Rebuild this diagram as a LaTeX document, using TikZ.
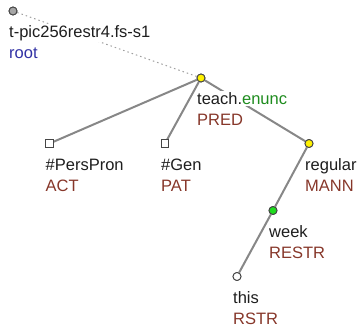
\documentclass[tikz,border=0pt]{standalone}
\usepackage{fontspec}
\setmainfont{Liberation Sans}
\definecolor{rolecol}{RGB}{135,55,42}
\definecolor{rootcol}{RGB}{50,50,165}
\definecolor{enunccol}{RGB}{30,140,30}
\definecolor{txtcol}{RGB}{30,30,30}
\definecolor{edgecol}{RGB}{135,135,135}
\definecolor{nodeborder}{RGB}{70,70,70}
\tikzset{
  tnode/.style={circle, draw=nodeborder, line width=0.9pt, minimum size=8pt, inner sep=0pt},
  snode/.style={rectangle, draw=nodeborder, line width=0.9pt, fill=white, minimum size=7.5pt, inner sep=0pt},
  edge/.style={draw=edgecol, line width=2pt},
  rootedge/.style={draw=edgecol!80, line width=1pt, dash pattern=on 1.5pt off 3pt},
  lab/.style={anchor=base west, fill=white, inner xsep=1pt, inner ysep=1.5pt, text=txtcol, font=\fontsize{16.5}{20}\selectfont},
  rolelab/.style={lab, text=rolecol},
}
\begin{document}
\begin{tikzpicture}[x=1pt,y=-1pt]
\useasboundingbox (0,0) rectangle (357,327);
% node positions
\node[tnode, fill=gray!70] (root) at (13,11) {};
\node[tnode, fill=yellow] (teach) at (201,78) {};
\node[snode] (pers) at (49.5,143.5) {};
\node[snode] (gen) at (165,143.5) {};
\node[tnode, fill=yellow] (regular) at (309,143.5) {};
\node[tnode, fill={rgb,255:red,30;green,220;blue,30}] (week) at (273,210.5) {};
\node[tnode, fill=white] (this) at (237,276.5) {};
% edges
\draw[rootedge] (root) -- (teach);
\draw[edge] (teach) -- (pers);
\draw[edge] (teach) -- (gen);
\draw[edge] (teach) -- (regular);
\draw[edge] (regular) -- (week);
\draw[edge] (week) -- (this);
% labels
\node[lab] (rootA) at (8,37.5) {t-pic256restr4.fs-s1};
\node[lab, text=rootcol] (rootB) at (8,58.5) {root};
\node[lab] (teachA) at (196,104.5) {teach.\textcolor{enunccol}{enunc}};
\node[rolelab] (teachB) at (196,125.5) {PRED};
\node[lab] (persA) at (44.5,170) {\#PersPron};
\node[rolelab] (persB) at (44.5,191) {ACT};
\node[lab] (genA) at (160,170) {\#Gen};
\node[rolelab] (genB) at (160,191) {PAT};
\node[lab] (regA) at (304,170) {regular};
\node[rolelab] (regB) at (304,191) {MANN};
\node[lab] (weekA) at (268,237) {week};
\node[rolelab] (weekB) at (268,258) {RESTR};
\node[lab] (thisA) at (232,303) {this};
\node[rolelab] (thisB) at (232,324) {RSTR};
% redraw node shapes on top
\node[tnode, fill=gray!70] at (root) {};
\node[tnode, fill=yellow] at (teach) {};
\node[snode] at (pers) {};
\node[snode] at (gen) {};
\node[tnode, fill=yellow] at (regular) {};
\node[tnode, fill={rgb,255:red,30;green,220;blue,30}] at (week) {};
\node[tnode, fill=white] at (this) {};
\end{tikzpicture}
\end{document}
